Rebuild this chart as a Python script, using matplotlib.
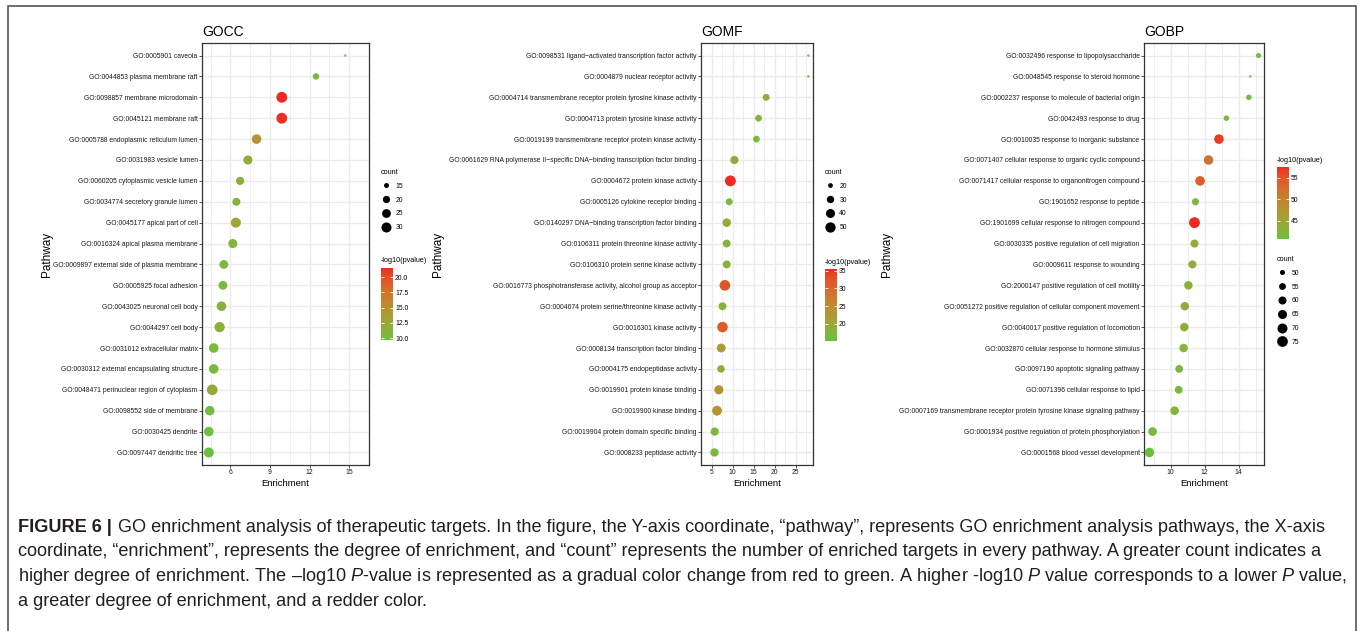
import numpy as np
import matplotlib
matplotlib.use("Agg")
import matplotlib.pyplot as plt
from matplotlib import font_manager
from matplotlib.colors import ListedColormap, Normalize, to_rgb
from matplotlib.cm import ScalarMappable
from matplotlib.lines import Line2D
from matplotlib.patches import Rectangle

# ---------------- data ----------------
cc_terms = [
    "GO:0005901 caveola",
    "GO:0044853 plasma membrane raft",
    "GO:0098857 membrane microdomain",
    "GO:0045121 membrane raft",
    "GO:0005788 endoplasmic reticulum lumen",
    "GO:0031983 vesicle lumen",
    "GO:0060205 cytoplasmic vesicle lumen",
    "GO:0034774 secretory granule lumen",
    "GO:0045177 apical part of cell",
    "GO:0016324 apical plasma membrane",
    "GO:0009897 external side of plasma membrane",
    "GO:0005925 focal adhesion",
    "GO:0043025 neuronal cell body",
    "GO:0044297 cell body",
    "GO:0031012 extracellular matrix",
    "GO:0030312 external encapsulating structure",
    "GO:0048471 perinuclear region of cytoplasm",
    "GO:0098552 side of membrane",
    "GO:0030425 dendrite",
    "GO:0097447 dendritic tree",
]
cc_enrich = [14.70, 12.48, 9.89, 9.89, 7.98, 7.32, 6.73, 6.45, 6.41, 6.18,
             5.50, 5.43, 5.32, 5.18, 4.73, 4.73, 4.62, 4.43, 4.36, 4.36]
cc_count = [13, 18, 34, 34, 28, 26, 23, 22, 30, 26,
            25, 25, 28, 31, 28, 28, 33, 28, 28, 30]
cc_logp = [9.8, 10.3, 21.5, 21.3, 14.6, 12.0, 11.4, 11.0, 13.0, 11.2,
           10.6, 10.4, 11.2, 11.8, 10.3, 10.3, 12.4, 10.2, 10.1, 9.7]
cc_xticks = [6, 9, 12, 15]
cc_count_breaks = [15, 20, 25, 30]
cc_logp_ticks = [10.0, 12.5, 15.0, 17.5, 20.0]

mf_terms = [
    "GO:0098531 ligand\u2212activated transcription factor activity",
    "GO:0004879 nuclear receptor activity",
    "GO:0004714 transmembrane receptor protein tyrosine kinase activity",
    "GO:0004713 protein tyrosine kinase activity",
    "GO:0019199 transmembrane receptor protein kinase activity",
    "GO:0061629 RNA polymerase II\u2212specific DNA\u2212binding transcription factor binding",
    "GO:0004672 protein kinase activity",
    "GO:0005126 cytokine receptor binding",
    "GO:0140297 DNA\u2212binding transcription factor binding",
    "GO:0106311 protein threonine kinase activity",
    "GO:0106310 protein serine kinase activity",
    "GO:0016773 phosphotransferase activity, alcohol group as acceptor",
    "GO:0004674 protein serine/threonine kinase activity",
    "GO:0016301 kinase activity",
    "GO:0008134 transcription factor binding",
    "GO:0004175 endopeptidase activity",
    "GO:0019901 protein kinase binding",
    "GO:0019900 kinase binding",
    "GO:0019904 protein domain specific binding",
    "GO:0008233 peptidase activity",
]
mf_enrich = [27.96, 27.96, 17.96, 16.15, 15.65, 10.43, 9.48, 9.20, 8.60, 8.60,
             8.60, 8.17, 7.60, 7.60, 7.30, 7.24, 6.74, 6.30, 5.75, 5.70]
mf_count = [17, 17, 28, 27, 27, 35, 55, 28, 37, 33,
            33, 53, 33, 52, 39, 31, 41, 46, 35, 36]
mf_logp = [15.1, 15.3, 18.0, 17.0, 16.5, 20.0, 35.5, 16.5, 19.0, 18.0,
           18.0, 32.0, 18.0, 31.5, 22.5, 18.5, 23.5, 23.0, 17.0, 16.5]
mf_xticks = [5, 10, 15, 20, 25]
mf_count_breaks = [20, 30, 40, 50]
mf_logp_ticks = [20, 25, 30, 35]

bp_terms = [
    "GO:0032496 response to lipopolysaccharide",
    "GO:0048545 response to steroid hormone",
    "GO:0002237 response to molecule of bacterial origin",
    "GO:0042493 response to drug",
    "GO:0010035 response to inorganic substance",
    "GO:0071407 cellular response to organic cyclic compound",
    "GO:0071417 cellular response to organonitrogen compound",
    "GO:1901652 response to peptide",
    "GO:1901699 cellular response to nitrogen compound",
    "GO:0030335 positive regulation of cell migration",
    "GO:0009611 response to wounding",
    "GO:2000147 positive regulation of cell motility",
    "GO:0051272 positive regulation of cellular component movement",
    "GO:0040017 positive regulation of locomotion",
    "GO:0032870 cellular response to hormone stimulus",
    "GO:0097190 apoptotic signaling pathway",
    "GO:0071396 cellular response to lipid",
    "GO:0007169 transmembrane receptor protein tyrosine kinase signaling pathway",
    "GO:0001934 positive regulation of protein phosphorylation",
    "GO:0001568 blood vessel development",
]
bp_enrich = [15.17, 14.68, 14.60, 13.28, 12.84, 12.23, 11.73, 11.46, 11.40, 11.40,
             11.28, 11.04, 10.83, 10.80, 10.76, 10.50, 10.47, 10.23, 8.93, 8.75]
bp_count = [50, 47, 51, 51, 68, 67, 68, 56, 76, 60,
            60, 62, 62, 62, 62, 59, 59, 63, 63, 67]
bp_logp = [41.5, 41.0, 41.5, 42.0, 56.5, 52.0, 54.0, 42.5, 57.5, 44.5,
           44.0, 43.5, 43.5, 43.5, 43.0, 42.0, 42.0, 42.5, 41.5, 40.7]
bp_xticks = [10, 12, 14]
bp_count_breaks = [50, 55, 60, 65, 70, 75]
bp_logp_ticks = [45, 50, 55]

caption_head = "FIGURE 6 |"
caption_lines = [
    "GO enrichment analysis of therapeutic targets. In the figure, the Y-axis coordinate, \u201cpathway\u201d, "
    "represents GO enrichment analysis pathways, the X-axis",
    "coordinate, \u201cenrichment\u201d, represents the degree of enrichment, and \u201ccount\u201d represents the number "
    "of enriched targets in every pathway. A greater count indicates a",
    "higher degree of enrichment. The \u2013log10 $P$-value is represented as a gradual color change from red "
    "to green. A higher -log10 $P$ value corresponds to a lower $P$ value,",
    "a greater degree of enrichment, and a redder color.",
]

# ---------------- fonts ----------------
installed = {f.name for f in font_manager.fontManager.ttflist}
cap_family = "Liberation Sans Narrow" if "Liberation Sans Narrow" in installed else "Liberation Sans"
plt.rcParams["font.family"] = ["Liberation Sans", "DejaVu Sans"]
plt.rcParams["mathtext.fontset"] = "custom"
plt.rcParams["mathtext.rm"] = cap_family
plt.rcParams["mathtext.it"] = cap_family + ":italic"
plt.rcParams["mathtext.bf"] = cap_family + ":bold"

W, H = 1360, 631
fig = plt.figure(figsize=(W / 100, H / 100), dpi=100)


def px_box(x0, y0, x1, y1):
    return [x0 / W, 1 - y1 / H, (x1 - x0) / W, (y1 - y0) / H]


# green -> red gradient interpolated in CIELAB, like ggplot's scale_colour_gradient
M = np.array([[0.4124, 0.3576, 0.1805],
              [0.2126, 0.7152, 0.0722],
              [0.0193, 0.1192, 0.9505]])
WHITE = np.array([0.95047, 1.0, 1.08883])
D = 6 / 29


def to_lab(color):
    rgb = np.array(to_rgb(color))
    lin = np.where(rgb <= 0.04045, rgb / 12.92, ((rgb + 0.055) / 1.055) ** 2.4)
    xyz = M @ lin / WHITE
    f = np.where(xyz > D ** 3, np.cbrt(xyz), xyz / (3 * D ** 2) + 4 / 29)
    return np.array([116 * f[1] - 16, 500 * (f[0] - f[1]), 200 * (f[1] - f[2])])


def from_lab(lab):
    fy = (lab[:, 0] + 16) / 116
    f = np.stack([fy + lab[:, 1] / 500, fy, fy - lab[:, 2] / 200], axis=1)
    xyz = np.where(f > D, f ** 3, 3 * D ** 2 * (f - 4 / 29)) * WHITE
    lin = np.clip(xyz @ np.linalg.inv(M).T, 0, 1)
    rgb = np.where(lin <= 0.0031308, 12.92 * lin, 1.055 * lin ** (1 / 2.4) - 0.055)
    return np.clip(rgb, 0, 1)


t = np.linspace(0, 1, 256)[:, None]
cmap = ListedColormap(from_lab(to_lab("#6ABF40") * (1 - t) + to_lab("#EE2A24") * t))


def dot_diameter(c, cmin, cmax):
    # ggplot-style area scale: size 1..6 on the sqrt of the rescaled count,
    # plus the constant stroke width around each point
    size = 1 + 5 * np.sqrt((np.asarray(c, dtype=float) - cmin) / (cmax - cmin))
    return 1.7 * (size + 0.4) * 0.72   # points


def draw_panel(title, terms, enrich, count, logp, xticks, count_breaks, logp_ticks, fmt,
               axes_px, ylab_x, count_leg_px, color_leg_px):
    ax = fig.add_axes(px_box(*axes_px))
    n = len(terms)
    pos = np.arange(n)
    cmin, cmax = min(count), max(count)
    norm = Normalize(min(logp), max(logp))
    ax.scatter(enrich, pos, s=dot_diameter(count, cmin, cmax) ** 2, c=logp, cmap=cmap,
               norm=norm, linewidths=0, zorder=3)

    lo, hi = min(enrich), max(enrich)
    pad = 0.05 * (hi - lo)
    ax.set_xlim(lo - pad, hi + pad)
    ax.set_ylim(n - 0.4, -0.6)
    ax.set_yticks(pos, terms)
    ax.set_xticks(xticks)
    step = xticks[1] - xticks[0]
    ax.set_xticks(np.arange(xticks[0] - step / 2, xticks[-1] + step, step), minor=True)
    ax.grid(True, which="major", color="#EBEBEB", lw=1.0)
    ax.grid(True, which="minor", axis="x", color="#EBEBEB", lw=0.6)
    ax.set_axisbelow(True)
    for sp in ax.spines.values():
        sp.set_color("#333333")
        sp.set_linewidth(0.9)
    ax.tick_params(which="major", length=2.2, width=0.6, color="#333333", pad=1,
                   labelsize=4.9, labelcolor="#1A1A1A")
    ax.tick_params(which="minor", length=0)
    ax.set_xlabel("Enrichment", fontsize=6.8, labelpad=2)
    ax.set_title(title, loc="left", fontsize=10, pad=5)
    fig.text(ylab_x / W, 1 - (axes_px[1] + axes_px[3]) / 2 / H, "Pathway", rotation=90,
             ha="center", va="center", fontsize=8.5)

    # size legend
    handles = [Line2D([], [], ls="", marker="o", color="black", markeredgewidth=0,
                      markersize=dot_diameter(b, cmin, cmax)) for b in count_breaks]
    fig.legend(handles, [str(b) for b in count_breaks], title="count", loc="upper left",
               bbox_to_anchor=(count_leg_px[0] / W, 1 - count_leg_px[1] / H),
               frameon=False, fontsize=4.9, title_fontsize=5.2, handlelength=1.6,
               handletextpad=0.5, labelspacing=1.0, borderpad=0, borderaxespad=0,
               alignment="left")

    # colour bar
    cx, cy = color_leg_px
    cax = fig.add_axes(px_box(cx, cy, cx + 12, cy + 72))
    cb = fig.colorbar(ScalarMappable(norm, cmap), cax=cax)
    cb.outline.set_visible(False)
    cb.set_ticks(logp_ticks)
    cb.ax.set_yticklabels([fmt.format(v) for v in logp_ticks])
    cax.tick_params(length=2.5, width=0.6, color="white", labelsize=4.9, pad=1.5,
                    direction="in", left=True, right=True)
    fig.text(cx / W, 1 - (cy - 7) / H, "-log10(pvalue)", fontsize=5.2, va="center")


draw_panel("GOCC", cc_terms, cc_enrich, cc_count, cc_logp, cc_xticks, cc_count_breaks,
           cc_logp_ticks, "{:.1f}", (202, 43, 369, 465), 47, (381, 169), (381, 268))
draw_panel("GOMF", mf_terms, mf_enrich, mf_count, mf_logp, mf_xticks, mf_count_breaks,
           mf_logp_ticks, "{:d}", (701, 43, 813, 465), 438, (825, 169), (825, 269))
draw_panel("GOBP", bp_terms, bp_enrich, bp_count, bp_logp, bp_xticks, bp_count_breaks,
           bp_logp_ticks, "{:d}", (1144, 43, 1264, 465), 887, (1277, 256), (1277, 167))

# outer frame
fig.add_artist(Rectangle((8 / W, 1 - 640 / H), (1356 - 8) / W, (640 - 6) / H,
                         transform=fig.transFigure, fill=False, ec="#555555", lw=1.2))

# caption: one font size chosen so the longest line fits inside the frame
renderer = fig.canvas.get_renderer()
cap_color = "#231F20"
left, right, top, lead = 18, 1342, 527, 24.7
fs = 12
head = fig.text(left / W, 1 - top / H, caption_head, fontsize=fs, weight="bold",
                family=cap_family, color=cap_color, va="center")
texts = [fig.text(left / W, 1 - (top + lead * i) / H, line, fontsize=fs, family=cap_family,
                  color=cap_color, va="center") for i, line in enumerate(caption_lines)]
gap = 0.35 * fs * 100 / 72
widths = [t.get_window_extent(renderer).width for t in texts]
widths[0] += head.get_window_extent(renderer).width + gap
fs = fs * (right - left) / max(widths)
head.set_fontsize(fs)
for t in texts:
    t.set_fontsize(fs)
texts[0].set_x((left + head.get_window_extent(renderer).width + 0.35 * fs * 100 / 72) / W)

fig.savefig("out.png", dpi=100, facecolor="white")
